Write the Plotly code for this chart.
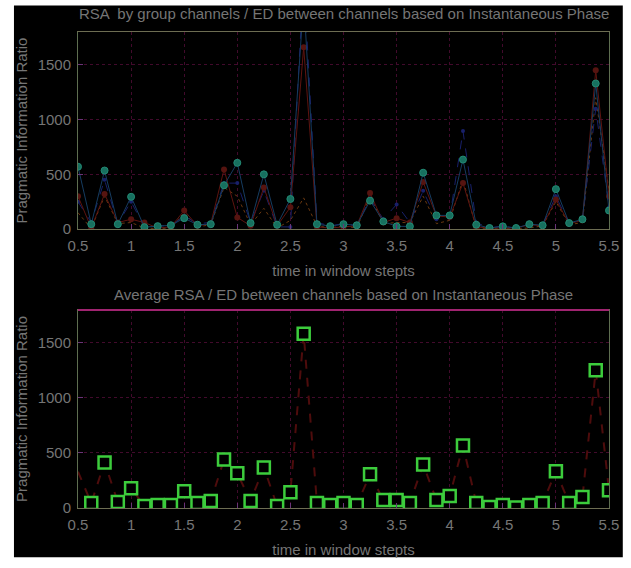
import plotly.graph_objects as go
from plotly.subplots import make_subplots

steps = [0.5, 0.625, 0.75, 0.875, 1.0, 1.125, 1.25, 1.375, 1.5, 1.625, 1.75, 1.875,
         2.0, 2.125, 2.25, 2.375, 2.5, 2.625, 2.75, 2.875, 3.0, 3.125, 3.25, 3.375,
         3.5, 3.625, 3.75, 3.875, 4.0, 4.125, 4.25, 4.375, 4.5, 4.625, 4.75, 4.875,
         5.0, 5.125, 5.25, 5.375, 5.5]

group_a = [570, 45, 535, 45, 295, 18, 27, 35, 100, 40, 45, 400, 605, 55, 500, 40, 275, 2100,
           45, 27, 45, 35, 260, 70, 25, 25, 515, 125, 125, 635, 40, 10, 25, 10, 45, 35, 365,
           55, 90, 1330, 170]
group_b = [300, 10, 320, 60, 90, 60, 10, 20, 170, 30, 50, 545, 107, 30, 380, 30, 200, 1660,
           20, 10, 20, 30, 330, 60, 100, 60, 430, 120, 110, 420, 20, 10, 10, 10, 40, 30, 270,
           50, 80, 1450, 300]
group_c = [150, 5, 300, 50, 60, 10, 5, 10, 150, 20, 40, 380, 300, 40, 190, 10, 80, 285,
           30, 10, 30, 10, 300, 50, 60, 60, 300, 50, 80, 450, 10, 5, 10, 5, 10, 30, 250,
           40, 60, 1200, 350]
group_d = [250, 60, 450, 50, 250, 20, 30, 30, 120, 50, 60, 420, 420, 60, 350, 20, 20, 2300,
           60, 30, 50, 30, 280, 90, 225, 60, 350, 90, 100, 895, 60, 10, 30, 5, 40, 40, 300,
           50, 90, 1100, 200]

average = [330, 45, 414, 54, 180, 18, 27, 27, 153, 45, 63, 441, 315, 63, 369, 18, 144, 1584,
           45, 27, 45, 27, 306, 72, 72, 45, 396, 72, 108, 567, 45, 10, 27, 5, 27, 45, 333,
           45, 99, 1251, 162]

x_ticks = [0.5, 1, 1.5, 2, 2.5, 3, 3.5, 4, 4.5, 5, 5.5]
x_tick_text = ["0.5", "1", "1.5", "2", "2.5", "3", "3.5", "4", "4.5", "5", "5.5"]
y_ticks = [0, 500, 1000, 1500]

title_top = "RSA  by group channels / ED between channels based on Instantaneous Phase"
title_bottom = "Average RSA / ED between channels based on Instantaneous Phase"
x_title = "time in window stepts"
y_title = "Pragmatic Information Ratio"

W, H = 631, 568
ML, MR, MT, MB = 78, 14, 32, 53
PH = H - MT - MB

fig = make_subplots(rows=2, cols=1, vertical_spacing=0.0)

fig.add_trace(go.Scatter(x=steps, y=group_c, mode="lines",
                         line=dict(color="#6a3810", width=1, dash="dot")), row=1, col=1)
fig.add_trace(go.Scatter(x=steps, y=group_d, mode="lines+markers",
                         line=dict(color="#18206a", width=1, dash="dash"),
                         marker=dict(color="#18206a", size=4)), row=1, col=1)
fig.add_trace(go.Scatter(x=steps, y=group_b, mode="lines+markers",
                         line=dict(color="#5e1410", width=1),
                         marker=dict(color="#561410", size=6)), row=1, col=1)
fig.add_trace(go.Scatter(x=steps, y=group_a, mode="lines+markers",
                         line=dict(color="#163c60", width=1),
                         marker=dict(color="#17705f", size=7,
                                     line=dict(color="#238a74", width=1))), row=1, col=1)

fig.add_trace(go.Scatter(x=steps, y=average, mode="lines",
                         line=dict(color="#4e0c0c", width=2, dash="dash")), row=2, col=1)
fig.add_trace(go.Scatter(x=steps[1:], y=average[1:], mode="markers",
                         marker=dict(symbol="square", size=12, color="#000000",
                                     line=dict(color="#3ccc3c", width=2.5))), row=2, col=1)

axis_font = dict(family="Liberation Sans, Arial, sans-serif", size=15, color="#757575")
grid_color = "#420a2c"

top_dom = [1 - 200 / PH, 1]
bot_dom = [0, (PH - 282) / PH]

for r, dom in ((1, top_dom), (2, bot_dom)):
    fig.update_xaxes(row=r, col=1, range=[0.5, 5.5], tickvals=x_ticks, ticktext=x_tick_text,
                     showgrid=True, gridcolor=grid_color, griddash="dot", gridwidth=1,
                     zeroline=False, showline=True, linecolor="#6d6d52", linewidth=1,
                     mirror=True, ticks="inside", ticklen=5, tickcolor="#6a3478",
                     tickfont=axis_font, ticklabelstandoff=3,
                     title=dict(text=x_title, font=axis_font, standoff=12))
    fig.update_yaxes(row=r, col=1, range=[0, 1800], tickvals=y_ticks, domain=dom,
                     showgrid=True, gridcolor=grid_color, griddash="dot", gridwidth=1,
                     zeroline=False, showline=True, linecolor="#5e6e50", linewidth=1,
                     mirror=True, ticks="inside", ticklen=5, tickcolor="#6a3478",
                     tickfont=axis_font, ticklabelstandoff=3,
                     title=dict(text=y_title, font=axis_font, standoff=6))

fig.add_shape(type="line", xref="x2 domain", yref="y2 domain", x0=0, x1=1, y0=1, y1=1,
              line=dict(color="#a02470", width=2))

title_font = dict(family="Liberation Sans, Arial, sans-serif", size=15, color="#757575")
fig.add_annotation(text=title_top, xref="paper", yref="paper", x=0.5, y=1 + 19 / PH,
                   showarrow=False, font=title_font, yanchor="middle")
fig.add_annotation(text=title_bottom, xref="paper", yref="paper", x=0.5,
                   y=(PH - (298 - MT)) / PH, showarrow=False, font=title_font, yanchor="middle")

# dark canvas leaving a thin white margin as in the reference
fig.add_shape(type="rect", xref="paper", yref="paper", layer="below",
              x0=(13 - ML) / (W - ML - MR), x1=(W - ML) / (W - ML - MR),
              y0=-(565 - MT - PH) / PH, y1=1 + (MT - 5) / PH,
              fillcolor="#000000", line=dict(width=0))

fig.update_layout(width=W, height=H, margin=dict(l=ML, r=MR, t=MT, b=MB),
                  paper_bgcolor="#ffffff", plot_bgcolor="#000000", showlegend=False)

fig.write_html("out.html")
